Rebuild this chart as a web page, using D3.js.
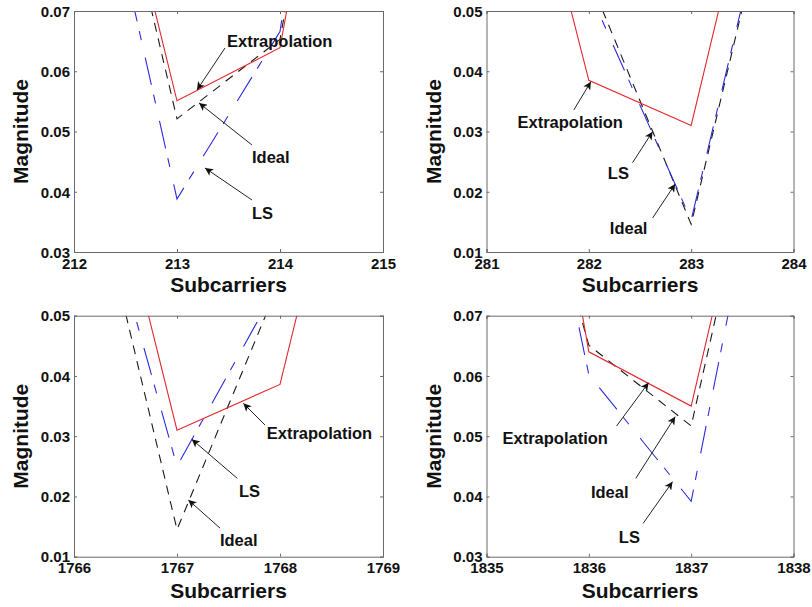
<!DOCTYPE html>
<html>
<head>
<meta charset="utf-8">
<script src="https://cdn.jsdelivr.net/npm/d3@7/dist/d3.min.js"></script>
<style>
  html, body { margin: 0; padding: 0; background: #fff; }
  svg { display: block; }
  text { font-family: "Liberation Sans", Arial, Helvetica, sans-serif; font-weight: bold; fill: #111; }
</style>
</head>
<body>
<svg id="chart" width="812" height="607"></svg>
<script>
// Subcarrier indices shown in each of the four zoomed panels
const subcarriers = [
  [212, 213, 214, 215],
  [281, 282, 283, 284],
  [1766, 1767, 1768, 1769],
  [1835, 1836, 1837, 1838]
];

// Channel magnitude per subcarrier: ideal, LS estimate, extrapolation estimate
const idealMag = [
  [0.1249, 0.0521, 0.0653, 0.160],
  [0.085, 0.0556, 0.0146, 0.0862],
  [0.0864, 0.0145, 0.0558, 0.090],
  [0.125, 0.0651, 0.0517, 0.127]
];
const lsMag = [
  [0.1149, 0.0388, 0.0666, 0.180],
  [0.082, 0.0534, 0.0153, 0.087],
  [0.0862, 0.0250, 0.0558, 0.085],
  [0.142, 0.0602, 0.0392, 0.125]
];
const extrapMag = [
  [0.1247, 0.0551, 0.0639, 0.158],
  [0.105, 0.0385, 0.031, 0.102],
  [0.0998, 0.031, 0.0386, 0.1086],
  [0.161, 0.064, 0.055, 0.128]
];

// Magnitude axis range and ticks per panel
const yDomains = [[0.03, 0.07], [0.01, 0.05], [0.01, 0.05], [0.03, 0.07]];
const yTicks = [
  [0.03, 0.04, 0.05, 0.06, 0.07],
  [0.01, 0.02, 0.03, 0.04, 0.05],
  [0.01, 0.02, 0.03, 0.04, 0.05],
  [0.03, 0.04, 0.05, 0.06, 0.07]
];

// Callout labels: text anchor point and arrow (from -> tip), in data units
const callouts = [
  [
    { label: "Extrapolation", tx: 213.485, ty: 0.0650, x1: 213.466, y1: 0.06386, x2: 213.194, y2: 0.05689 },
    { label: "Ideal", tx: 213.728, ty: 0.04577, x1: 213.728, y1: 0.04776, x2: 213.214, y2: 0.05473 },
    { label: "LS", tx: 213.728, ty: 0.03647, x1: 213.728, y1: 0.03863, x2: 213.272, y2: 0.04394 }
  ],
  [
    { label: "Extrapolation", tx: 281.303, ty: 0.03163, x1: 281.853, y1: 0.03357, x2: 282.020, y2: 0.03827 },
    { label: "LS", tx: 282.186, ty: 0.02311, x1: 282.427, y1: 0.02482, x2: 282.623, y2: 0.02997 },
    { label: "Ideal", tx: 282.205, ty: 0.01398, x1: 282.623, y1: 0.01564, x2: 282.844, y2: 0.02129 }
  ],
  [
    { label: "Extrapolation", tx: 1767.871, ty: 0.03053, x1: 1767.854, y1: 0.03186, x2: 1767.644, y2: 0.03546 },
    { label: "LS", tx: 1767.602, ty: 0.02090, x1: 1767.585, y1: 0.02301, x2: 1767.143, y2: 0.02949 },
    { label: "Ideal", tx: 1767.417, ty: 0.01277, x1: 1767.417, y1: 0.01476, x2: 1767.110, y2: 0.01941 }
  ],
  [
    { label: "Extrapolation", tx: 1835.156, ty: 0.0497, x1: 1836.271, y1: 0.05169, x2: 1836.584, y2: 0.05888 },
    { label: "Ideal", tx: 1836.020, ty: 0.04074, x1: 1836.459, y1: 0.04301, x2: 1836.844, y2: 0.05324 },
    { label: "LS", tx: 1836.293, ty: 0.03327, x1: 1836.531, y1: 0.03554, x2: 1836.818, y2: 0.04245 }
  ]
];

const xLabel = "Subcarriers";
const yLabel = "Magnitude";

// Panel frames (plot area rectangles) in a 2x2 grid
const frames = [
  { left: 74, right: 383, top: 11, bottom: 252, titleY: 291.5 },
  { left: 486.5, right: 793.5, top: 11, bottom: 252, titleY: 291.5 },
  { left: 74, right: 383, top: 315.7, bottom: 556.7, titleY: 598 },
  { left: 486.5, right: 793.5, top: 315.7, bottom: 556.7, titleY: 598 }
];

const seriesStyle = [
  { key: "ideal", values: idealMag, color: "#1a1a1a", dash: "9,7" },
  { key: "ls", values: lsMag, color: "#2b2bdc", dash: "28,10,9,18" },
  { key: "extrap", values: extrapMag, color: "#e5262b", dash: null }
];

const svg = d3.select("#chart");
const axisColor = "#6a6a6a";

const defs = svg.append("defs");
defs.append("marker")
  .attr("id", "arrowhead")
  .attr("viewBox", "0 0 10 10")
  .attr("refX", 10).attr("refY", 5)
  .attr("markerWidth", 10).attr("markerHeight", 8)
  .attr("markerUnits", "userSpaceOnUse")
  .attr("orient", "auto")
  .append("path")
  .attr("d", "M0,0 L10,5 L0,10 L2.5,5 Z")
  .attr("fill", "#111");

frames.forEach((f, i) => {
  const xs = subcarriers[i];
  const x = d3.scaleLinear().domain([xs[0], xs[xs.length - 1]]).range([f.left, f.right]);
  const y = d3.scaleLinear().domain(yDomains[i]).range([f.bottom, f.top]);
  const w = f.right - f.left, h = f.bottom - f.top;

  defs.append("clipPath").attr("id", "clip" + i)
    .append("rect").attr("x", f.left).attr("y", f.top).attr("width", w).attr("height", h);

  const g = svg.append("g");

  // data lines
  const line = d3.line().x((d, j) => x(xs[j])).y(d => y(d));
  const plot = g.append("g").attr("clip-path", `url(#clip${i})`);
  seriesStyle.forEach(s => {
    plot.append("path")
      .datum(s.values[i])
      .attr("d", line)
      .attr("fill", "none")
      .attr("stroke", s.color)
      .attr("stroke-width", 1.1)
      .attr("stroke-dasharray", s.dash);
  });

  // axes with inward ticks on all sides (boxed axes)
  const tickLen = 3;
  const axB = g.append("g").attr("transform", `translate(0,${f.bottom})`)
    .call(d3.axisBottom(x).tickValues(xs).tickSize(-tickLen).tickPadding(4).tickFormat(d3.format("d")));
  const axT = g.append("g").attr("transform", `translate(0,${f.top})`)
    .call(d3.axisTop(x).tickValues(xs).tickSize(-tickLen).tickFormat(""));
  const axL = g.append("g").attr("transform", `translate(${f.left},0)`)
    .call(d3.axisLeft(y).tickValues(yTicks[i]).tickSize(-tickLen).tickPadding(4).tickFormat(d3.format(".2f")));
  const axR = g.append("g").attr("transform", `translate(${f.right},0)`)
    .call(d3.axisRight(y).tickValues(yTicks[i]).tickSize(-tickLen).tickFormat(""));

  [axB, axT, axL, axR].forEach(a => {
    a.select(".domain").attr("stroke", axisColor).attr("stroke-width", 1);
    a.selectAll(".tick line").attr("stroke", axisColor);
    a.selectAll("text").attr("font-size", 15).attr("font-family", null).attr("fill", "#111");
  });
  axB.selectAll("text").attr("dy", "0.85em");
  axL.selectAll("text").attr("dy", "0.35em");

  // axis titles
  g.append("text")
    .attr("x", (f.left + f.right) / 2).attr("y", f.titleY)
    .attr("text-anchor", "middle").attr("font-size", 21)
    .text(xLabel);
  g.append("text")
    .attr("transform", `translate(${f.left - 46},${(f.top + f.bottom) / 2}) rotate(-90)`)
    .attr("text-anchor", "middle").attr("font-size", 21)
    .text(yLabel);

  // callouts
  callouts[i].forEach(c => {
    g.append("line")
      .attr("x1", x(c.x1)).attr("y1", y(c.y1))
      .attr("x2", x(c.x2)).attr("y2", y(c.y2))
      .attr("stroke", "#222").attr("stroke-width", 1)
      .attr("marker-end", "url(#arrowhead)");
    g.append("text")
      .attr("x", x(c.tx)).attr("y", y(c.ty)).attr("dy", "0.36em")
      .attr("font-size", 16.5)
      .text(c.label);
  });
});
</script>
</body>
</html>
